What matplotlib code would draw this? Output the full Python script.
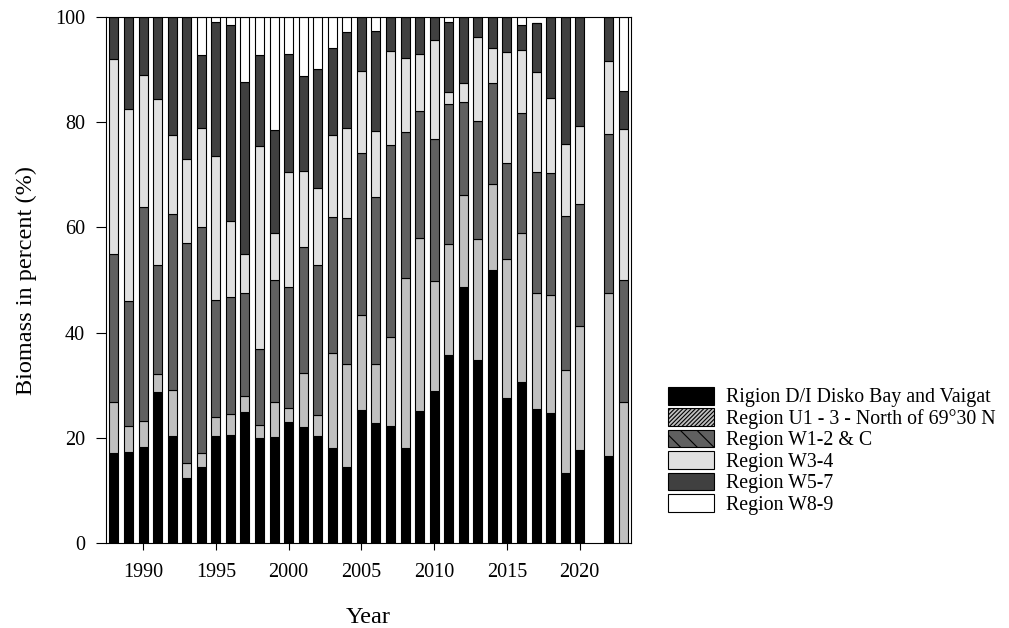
import matplotlib
matplotlib.use("Agg")
import matplotlib.pyplot as plt
from matplotlib.patches import Patch
import numpy as np

plt.rcParams['font.family'] = ['Liberation Serif', 'DejaVu Serif']
plt.rcParams['hatch.linewidth'] = 0.8

years = [1988, 1989, 1990, 1991, 1992, 1993, 1994, 1995, 1996, 1997, 1998, 1999,
         2000, 2001, 2002, 2003, 2004, 2005, 2006, 2007, 2008, 2009, 2010, 2011,
         2012, 2013, 2014, 2015, 2016, 2017, 2018, 2019, 2020, 2022, 2023]

region_di = [17.1, 17.4, 18.3, 28.8, 20.3, 12.3, 14.4, 20.4, 20.6, 25.0, 19.9, 20.2,
             23.1, 22.1, 20.4, 18.0, 14.5, 25.3, 22.8, 22.2, 18.0, 25.2, 28.9, 35.7,
             48.6, 34.9, 52.0, 27.6, 30.6, 25.5, 24.7, 13.4, 17.8, 16.6, 0.0]
region_u13 = [9.7, 4.9, 4.9, 3.3, 8.8, 2.9, 2.7, 3.5, 3.9, 3.0, 2.5, 6.7,
              2.5, 10.3, 4.0, 18.2, 19.6, 18.1, 11.2, 17.0, 32.4, 32.8, 21.0, 21.1,
              17.5, 22.9, 16.2, 26.4, 28.3, 22.0, 22.4, 19.5, 23.5, 31.0, 26.8]
region_w12c = [28.2, 23.7, 40.7, 20.7, 33.5, 41.9, 43.0, 22.4, 22.3, 19.6, 14.6, 23.2,
               23.0, 23.9, 28.5, 25.8, 27.7, 30.8, 31.8, 36.4, 27.7, 24.1, 26.9, 26.6,
               17.7, 22.4, 19.2, 18.3, 22.8, 23.1, 23.3, 29.3, 23.1, 30.2, 23.2]
region_w34 = [37.1, 36.6, 25.0, 31.6, 14.9, 15.9, 18.8, 27.3, 14.5, 7.4, 38.5, 8.9,
              22.0, 14.5, 14.6, 15.6, 17.1, 15.6, 12.5, 18.0, 14.1, 10.8, 18.8, 2.3,
              3.7, 15.9, 6.7, 21.0, 12.0, 18.9, 14.2, 13.7, 14.9, 13.8, 28.7]
region_w57 = [7.9, 17.4, 11.1, 15.6, 22.5, 27.0, 13.9, 25.5, 37.2, 32.6, 17.3, 19.5,
              22.4, 17.9, 22.7, 16.5, 18.3, 10.2, 19.1, 6.4, 7.8, 7.1, 4.4, 13.3,
              12.5, 3.9, 5.9, 6.7, 4.8, 9.4, 15.4, 24.1, 20.7, 8.4, 7.2]
region_w89 = [0.0, 0.0, 0.0, 0.0, 0.0, 0.0, 7.2, 0.9, 1.5, 12.4, 7.2, 21.5,
              7.0, 11.3, 9.8, 5.9, 2.8, 0.0, 2.6, 0.0, 0.0, 0.0, 0.0, 1.0,
              0.0, 0.0, 0.0, 0.0, 1.5, 0.0, 0.0, 0.0, 0.0, 0.0, 14.1]

labels = ["Rigion D/I Disko Bay and Vaigat",
          "Region U1 - 3 - North of 69\u00b030 N",
          "Region W1-2 & C",
          "Region W3-4",
          "Region W5-7",
          "Region W8-9"]
series = [region_di, region_u13, region_w12c, region_w34, region_w57, region_w89]
colors = ["#000000", "#c0c0c0", "#606060", "#e0e0e0", "#404040", "#ffffff"]
legend_hatches = [None, "////////", "\\\\", None, None, None]

fig = plt.figure(figsize=(10.09, 6.28), dpi=100)
ax = fig.add_axes([0.105, 0.135, 0.52, 0.838])

bottom = np.zeros(len(years))
for vals, c in zip(series, colors):
    vals = np.array(vals)
    ax.bar(years, vals, bottom=bottom, width=0.62, color=c,
           edgecolor="black", linewidth=0.8)
    bottom += vals

ax.set_xlim(1987.45, 2023.5)
ax.set_ylim(0, 100)
ax.set_xticks([1990, 1995, 2000, 2005, 2010, 2015, 2020])
ax.set_yticks([0, 20, 40, 60, 80, 100])
ax.tick_params(axis='x', direction='out', length=5, width=0.8, labelsize=14.5, pad=9)
ax.tick_params(axis='y', direction='out', length=7, width=0.8, labelsize=14.5, pad=8)
for s in ax.spines.values():
    s.set_linewidth(0.8)
ax.set_ylabel("Biomass in percent (%)", fontsize=17.5, labelpad=13)
ax.set_xlabel("Year", fontsize=17.5, labelpad=18)

handles = []
for c, h in zip(colors, legend_hatches):
    handles.append(Patch(facecolor=c, edgecolor="black", hatch=h, linewidth=0.8))
leg = fig.legend(handles, labels, loc="upper left", bbox_to_anchor=(0.652, 0.40),
                 frameon=False, fontsize=14.3, handlelength=2.35, handleheight=1.0,
                 handletextpad=0.6, labelspacing=0.04, borderpad=0)

fig.savefig("out.png", dpi=100)
